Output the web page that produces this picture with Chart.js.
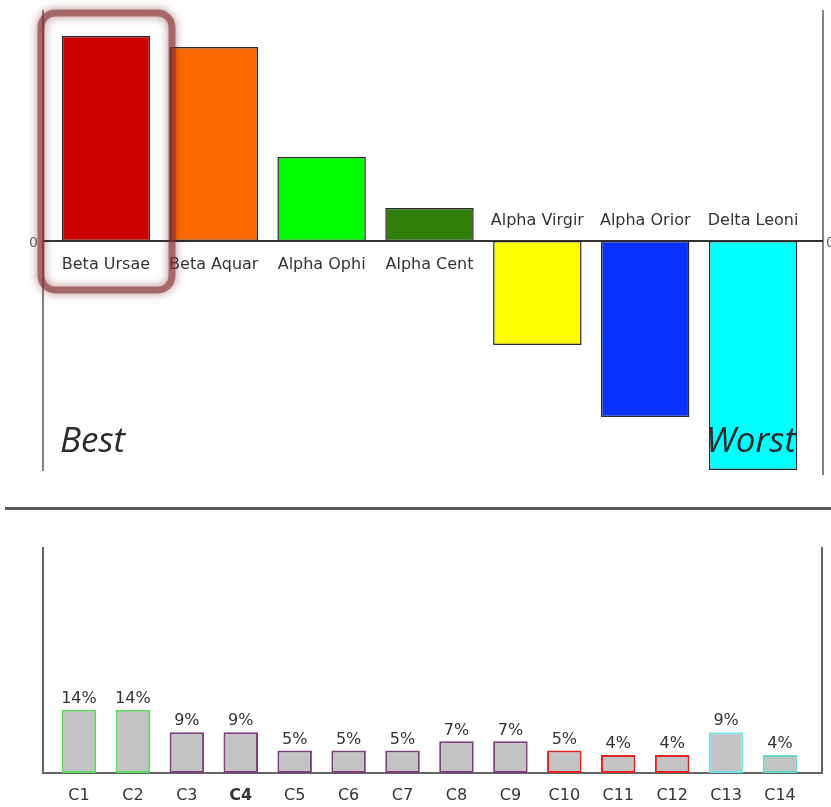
<!DOCTYPE html>
<html>
<head>
<meta charset="utf-8">
<script src="https://cdn.jsdelivr.net/npm/chart.js@4.4.1/dist/chart.umd.min.js"></script>
<style>
  body { margin: 0; background: #fff; }
  #wrap { position: relative; width: 831px; height: 807px; overflow: hidden; }
  #top { position: absolute; left: 0; top: 0; }
  #bottom { position: absolute; left: 0; top: 520px; }
  #sep { position: absolute; left: 5px; top: 507px; width: 826px; height: 3px; background: #5a5a5a; }
</style>
</head>
<body>
<div id="wrap">
  <canvas id="top" width="831" height="500"></canvas>
  <div id="sep"></div>
  <canvas id="bottom" width="831" height="287"></canvas>
</div>
<script>
// top chart: ranking of alternatives
const stars = ["Beta Ursae", "Beta Aquar", "Alpha Ophi", "Alpha Cent", "Alpha Virgir", "Alpha Orior", "Delta Leoni"];
const starScores = [205, 194, 84, 33, -104, -176, -229];
const starColors = ["#cc0000", "#ff6a00", "#00ff00", "#2f7f0a", "#ffff00", "#0a32ff", "#00ffff"];
const scoreTicks = [0];

// bottom chart: criteria weights
const criteria = ["C1", "C2", "C3", "C4", "C5", "C6", "C7", "C8", "C9", "C10", "C11", "C12", "C13", "C14"];
const weights = [14, 14, 9, 9, 5, 5, 5, 7, 7, 5, 4, 4, 9, 4];
const weightBorders = ["#5fd65f", "#5fd65f", "#7b3f7b", "#7b3f7b", "#7b3f7b", "#7b3f7b", "#7b3f7b",
  "#7b3f7b", "#7b3f7b", "#e02424", "#e02424", "#e02424", "#72e2e2", "#62d6c8"];

const FONT = "'DejaVu Sans', sans-serif";

const topFrame = {
  id: "topFrame",
  beforeDatasetsDraw(chart) {
    const { ctx, chartArea: a, scales: { y } } = chart;
    const zy = y.getPixelForValue(0);
    const left = a.left - 9, right = a.right + 16;
    ctx.save();
    ctx.strokeStyle = "#5a5a5a";
    ctx.lineWidth = 1.5;
    ctx.beginPath();
    ctx.moveTo(left, a.top - 1); ctx.lineTo(left, a.bottom);
    ctx.moveTo(right, a.top - 1); ctx.lineTo(right, a.bottom + 4);
    ctx.stroke();
    ctx.strokeStyle = "#333";
    ctx.lineWidth = 2;
    ctx.beginPath();
    ctx.moveTo(left, zy); ctx.lineTo(right, zy);
    ctx.stroke();
    // zero labels on both sides
    ctx.fillStyle = "#666";
    ctx.font = "14px " + FONT;
    ctx.textBaseline = "middle";
    scoreTicks.forEach(t => {
      const ty = y.getPixelForValue(t) + 2;
      ctx.textAlign = "right";
      ctx.fillText(String(t), left - 5, ty);
      ctx.textAlign = "left";
      ctx.fillText(String(t), right + 3, ty);
    });
    ctx.restore();
  },
  afterDraw(chart) {
    const { ctx, scales: { x, y } } = chart;
    const zy = y.getPixelForValue(0);
    ctx.save();
    ctx.fillStyle = "#333";
    ctx.font = "16px " + FONT;
    ctx.textAlign = "center";
    ctx.textBaseline = "middle";
    stars.forEach((s, i) => {
      const ty = starScores[i] >= 0 ? zy + 24 : zy - 20;
      ctx.fillText(s, x.getPixelForValue(i), ty);
    });
    ctx.font = "italic 35px 'Open Sans', sans-serif";
    ctx.textAlign = "left";
    ctx.textBaseline = "alphabetic";
    ctx.fillStyle = "#2b2b2b";
    ctx.fillText("Best", 60, 452);
    ctx.fillText("Worst", 706, 452);
    // highlight around the best alternative
    ctx.strokeStyle = "rgba(130,45,45,0.6)";
    ctx.shadowColor = "rgba(120,30,30,0.9)";
    ctx.shadowBlur = 10;
    ctx.lineWidth = 7;
    ctx.beginPath();
    ctx.roundRect(41, 13, 131, 277, 14);
    ctx.stroke();
    ctx.restore();
  }
};

new Chart(document.getElementById("top"), {
  type: "bar",
  data: {
    labels: stars,
    datasets: [{
      data: starScores,
      backgroundColor: starColors,
      borderColor: "#2a2a2a",
      borderWidth: 1.5,
      borderSkipped: false,
      barPercentage: 0.82,
      categoryPercentage: 1
    }]
  },
  options: {
    responsive: false,
    animation: false,
    layout: { padding: { left: 52, right: 24, top: 11, bottom: 29 } },
    plugins: { legend: { display: false }, tooltip: { enabled: false } },
    scales: {
      x: { display: false },
      y: { display: false, min: -230, max: 230 }
    }
  },
  plugins: [topFrame]
});

const bottomFrame = {
  id: "bottomFrame",
  beforeDatasetsDraw(chart) {
    const { ctx, chartArea: a } = chart;
    const left = a.left - 9, right = a.right + 15;
    ctx.save();
    ctx.strokeStyle = "#666";
    ctx.lineWidth = 2;
    ctx.beginPath();
    ctx.moveTo(left, a.top); ctx.lineTo(left, a.bottom);
    ctx.lineTo(right, a.bottom); ctx.lineTo(right, a.top);
    ctx.stroke();
    ctx.restore();
  },
  afterDatasetsDraw(chart) {
    const { ctx } = chart;
    const meta = chart.getDatasetMeta(0);
    ctx.save();
    ctx.fillStyle = "#333";
    ctx.font = "16px " + FONT;
    ctx.textAlign = "center";
    ctx.textBaseline = "bottom";
    meta.data.forEach((bar, i) => {
      ctx.fillText(weights[i] + "%", bar.x, bar.y - 3);
    });
    ctx.restore();
  }
};

new Chart(document.getElementById("bottom"), {
  type: "bar",
  data: {
    labels: criteria,
    datasets: [{
      data: weights,
      backgroundColor: "#c3c3c3",
      borderColor: weightBorders,
      borderWidth: 2,
      borderSkipped: false,
      barPercentage: 0.64,
      categoryPercentage: 1
    }]
  },
  options: {
    responsive: false,
    animation: false,
    layout: { padding: { left: 52, right: 24, top: 27, bottom: 0 } },
    plugins: { legend: { display: false }, tooltip: { enabled: false } },
    scales: {
      x: {
        grid: { display: false, drawTicks: false },
        border: { display: false },
        afterFit(s) { s.height = 34; },
        ticks: {
          padding: 13,
          color: "#333",
          maxRotation: 0,
          font: ctx => ({ family: FONT, size: 16, weight: ctx.index === 3 ? "bold" : "normal" })
        }
      },
      y: { display: false, min: 0, max: 50 }
    }
  },
  plugins: [bottomFrame]
});
</script>
</body>
</html>
